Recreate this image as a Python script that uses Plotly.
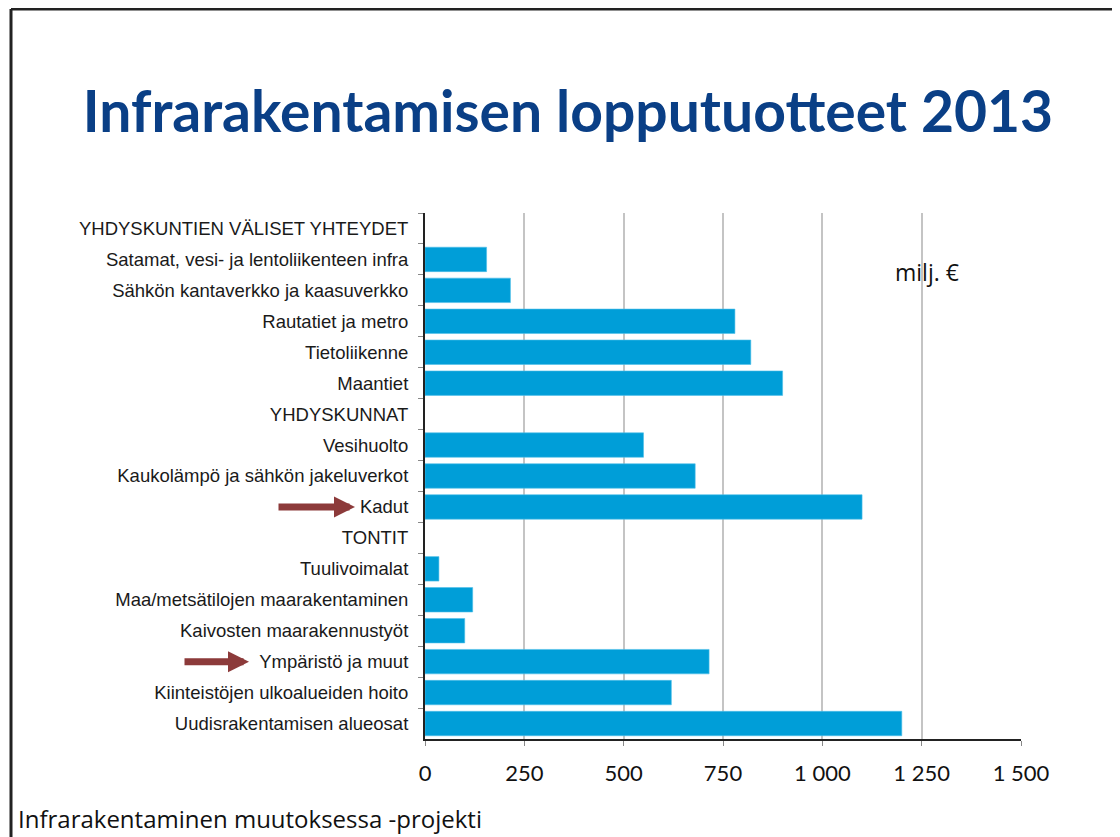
import plotly.graph_objects as go

# Data (milj. €); None = group heading row
categories = [
    "YHDYSKUNTIEN VÄLISET YHTEYDET",
    "Satamat, vesi- ja lentoliikenteen infra",
    "Sähkön kantaverkko ja kaasuverkko",
    "Rautatiet ja metro",
    "Tietoliikenne",
    "Maantiet",
    "YHDYSKUNNAT",
    "Vesihuolto",
    "Kaukolämpö ja sähkön jakeluverkot",
    "Kadut",
    "TONTIT",
    "Tuulivoimalat",
    "Maa/metsätilojen maarakentaminen",
    "Kaivosten maarakennustyöt",
    "Ympäristö ja muut",
    "Kiinteistöjen ulkoalueiden hoito",
    "Uudisrakentamisen alueosat",
]
values = [None, 155, 215, 780, 820, 900, None, 550, 680, 1100, None, 35, 120, 100, 715, 620, 1200]
x_ticks = [0, 250, 500, 750, 1000, 1250, 1500]
highlighted = ["Kadut", "Ympäristö ja muut"]

# page body has an 8px margin, so the figure is shifted and shrunk by that much
O = 8
W, H = 1120 - O, 837 - O
L, T = 425 - O, 213 - O
R, B = 1120 - 1021, 837 - 739
PW, PH = W - L - R, H - T - B


def px(x):
    # screen pixel x -> paper x
    return (x - O - L) / PW


def py(y):
    # screen pixel y -> paper y
    return 1 - (y - O - T) / PH


BAR = "#009ed8"
TITLE = "#0a3f86"
ARROW = "#8c3a3a"

fig = go.Figure()
fig.add_trace(
    go.Bar(
        y=categories,
        x=values,
        orientation="h",
        marker=dict(color=BAR, line=dict(color="#4fc0ea", width=0.6)),
        hoverinfo="x+y",
    )
)

shapes = [
    # slide frame
    dict(type="line", xref="paper", yref="paper", x0=px(11), x1=px(1120), y0=py(9), y1=py(9),
         line=dict(color="#222", width=3)),
    dict(type="line", xref="paper", yref="paper", x0=px(11), x1=px(11), y0=py(9), y1=py(837),
         line=dict(color="#222", width=3)),
    dict(type="line", xref="paper", yref="paper", x0=px(1118), x1=px(1118), y0=py(9), y1=py(837),
         line=dict(color="#888", width=2)),
]

annotations = [
    dict(text="milj. €", xref="paper", yref="paper", x=px(927), y=py(272),
         xanchor="center", yanchor="middle", showarrow=False,
         font=dict(family="Open Sans", size=23, color="#111")),
    dict(text="Infrarakentaminen muutoksessa -projekti", xref="paper", yref="paper",
         x=px(16), y=py(818), xanchor="left", yanchor="middle", showarrow=False,
         font=dict(family="Open Sans", size=24, color="#111")),
]
for cat, head_x, tail_len in zip(highlighted, [355, 249], [78, 66]):
    annotations.append(
        dict(text="", xref="paper", yref="y", x=px(head_x), y=cat, ax=-tail_len, ay=0,
             showarrow=True, arrowhead=2, arrowsize=0.6, arrowwidth=7, arrowcolor=ARROW)
    )

fig.update_layout(
    width=W,
    height=H,
    margin=dict(l=L, r=R, t=T, b=B),
    paper_bgcolor="white",
    plot_bgcolor="white",
    separators=", ",
    showlegend=False,
    bargap=0.21,
    title=dict(
        text="<b>Infrarakentamisen lopputuotteet 2013</b>",
        xref="container", yref="container", x=(568 - O) / W, y=1 - (112 - O) / H,
        xanchor="center", yanchor="middle",
        font=dict(family="Lato", size=57, color=TITLE),
    ),
    xaxis=dict(
        range=[0, 1500],
        tickvals=x_ticks,
        tickformat=",d",
        showgrid=True,
        gridcolor="#c4c4c4",
        gridwidth=1.5,
        zeroline=False,
        showline=True,
        linecolor="#222",
        linewidth=2,
        ticks="outside",
        ticklen=5,
        tickcolor="#888",
        ticklabelstandoff=9,
        tickfont=dict(family="Lato", size=22, color="#111"),
        fixedrange=True,
    ),
    yaxis=dict(
        type="category",
        autorange="reversed",
        showgrid=False,
        showline=True,
        linecolor="#222",
        linewidth=2,
        ticks="outside",
        tickson="boundaries",
        ticklen=5,
        tickcolor="#888",
        ticklabelstandoff=11,
        tickfont=dict(family="Liberation Sans", size=18.5, color="#1a1a1a"),
        fixedrange=True,
    ),
    shapes=shapes,
    annotations=annotations,
)

fig.write_html("out.html")
